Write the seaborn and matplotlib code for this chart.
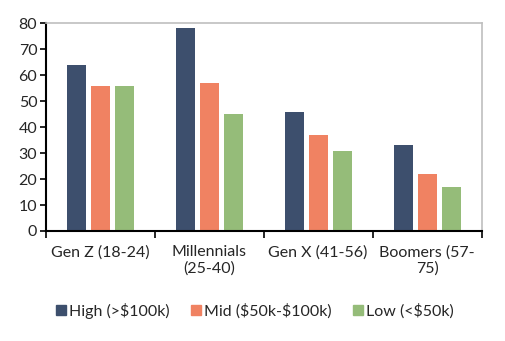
import matplotlib
matplotlib.use("Agg")
import matplotlib.pyplot as plt
import seaborn as sns
import pandas as pd
from matplotlib.ticker import FixedLocator
from matplotlib.lines import Line2D

categories = ["Gen Z (18-24)", "Millennials\n(25-40)", "Gen X (41-56)", "Boomers (57-\n75)"]
series = ["High (>$100k)", "Mid ($50k-$100k)", "Low (<$50k)"]
high = [64, 78, 46, 33]
mid = [56, 57, 37, 22]
low = [56, 45, 31, 17]
colors = ["#3D4F6D", "#F08262", "#95BC79"]

rows = []
for s, vals in zip(series, [high, mid, low]):
    for c, v in zip(categories, vals):
        rows.append({"cat": c, "val": v, "series": s})
df = pd.DataFrame(rows)

sns.set_style("white")
plt.rcParams["font.family"] = ["Lato", "DejaVu Sans"]
plt.rcParams["text.parse_math"] = False

fig = plt.figure(figsize=(5.05, 3.41), dpi=100)
ax = fig.add_axes([0.0905, 0.3226, 0.8633, 0.6091])
sns.barplot(data=df, x="cat", y="val", hue="series", palette=colors,
            width=0.665, gap=0.213, ax=ax, legend=False, saturation=1,
            linewidth=0)

ax.set_ylim(0, 80)
ax.set_yticks(range(0, 81, 10))
ax.set_xlim(-0.5, 3.5)
ax.set_xlabel("")
ax.set_ylabel("")
ax.tick_params(axis="y", which="major", length=4, width=1.2, color="black",
               labelsize=11.5, pad=2, left=True)
ax.tick_params(axis="x", which="major", length=0, labelsize=11.5, pad=10)
ax.xaxis.set_minor_locator(FixedLocator([-0.5, 0.5, 1.5, 2.5, 3.5]))
ax.tick_params(axis="x", which="minor", length=5, width=1.2, color="black", bottom=True)

for side in ["left", "bottom"]:
    ax.spines[side].set_color("black")
    ax.spines[side].set_linewidth(1.5)
for side in ["top", "right"]:
    ax.spines[side].set_visible(True)
    ax.spines[side].set_color("#BFBFBF")
    ax.spines[side].set_linewidth(1.2)

handles = [Line2D([0], [0], marker="s", linestyle="none", markersize=7,
                  markerfacecolor=c, markeredgecolor=c) for c in colors]
fig.legend(handles, series, loc="center", bbox_to_anchor=(0.505, 0.088), ncol=3,
           frameon=False, fontsize=11.5, handletextpad=0.15, columnspacing=1.3,
           handlelength=0.7)

fig.savefig("out.png", dpi=100)
